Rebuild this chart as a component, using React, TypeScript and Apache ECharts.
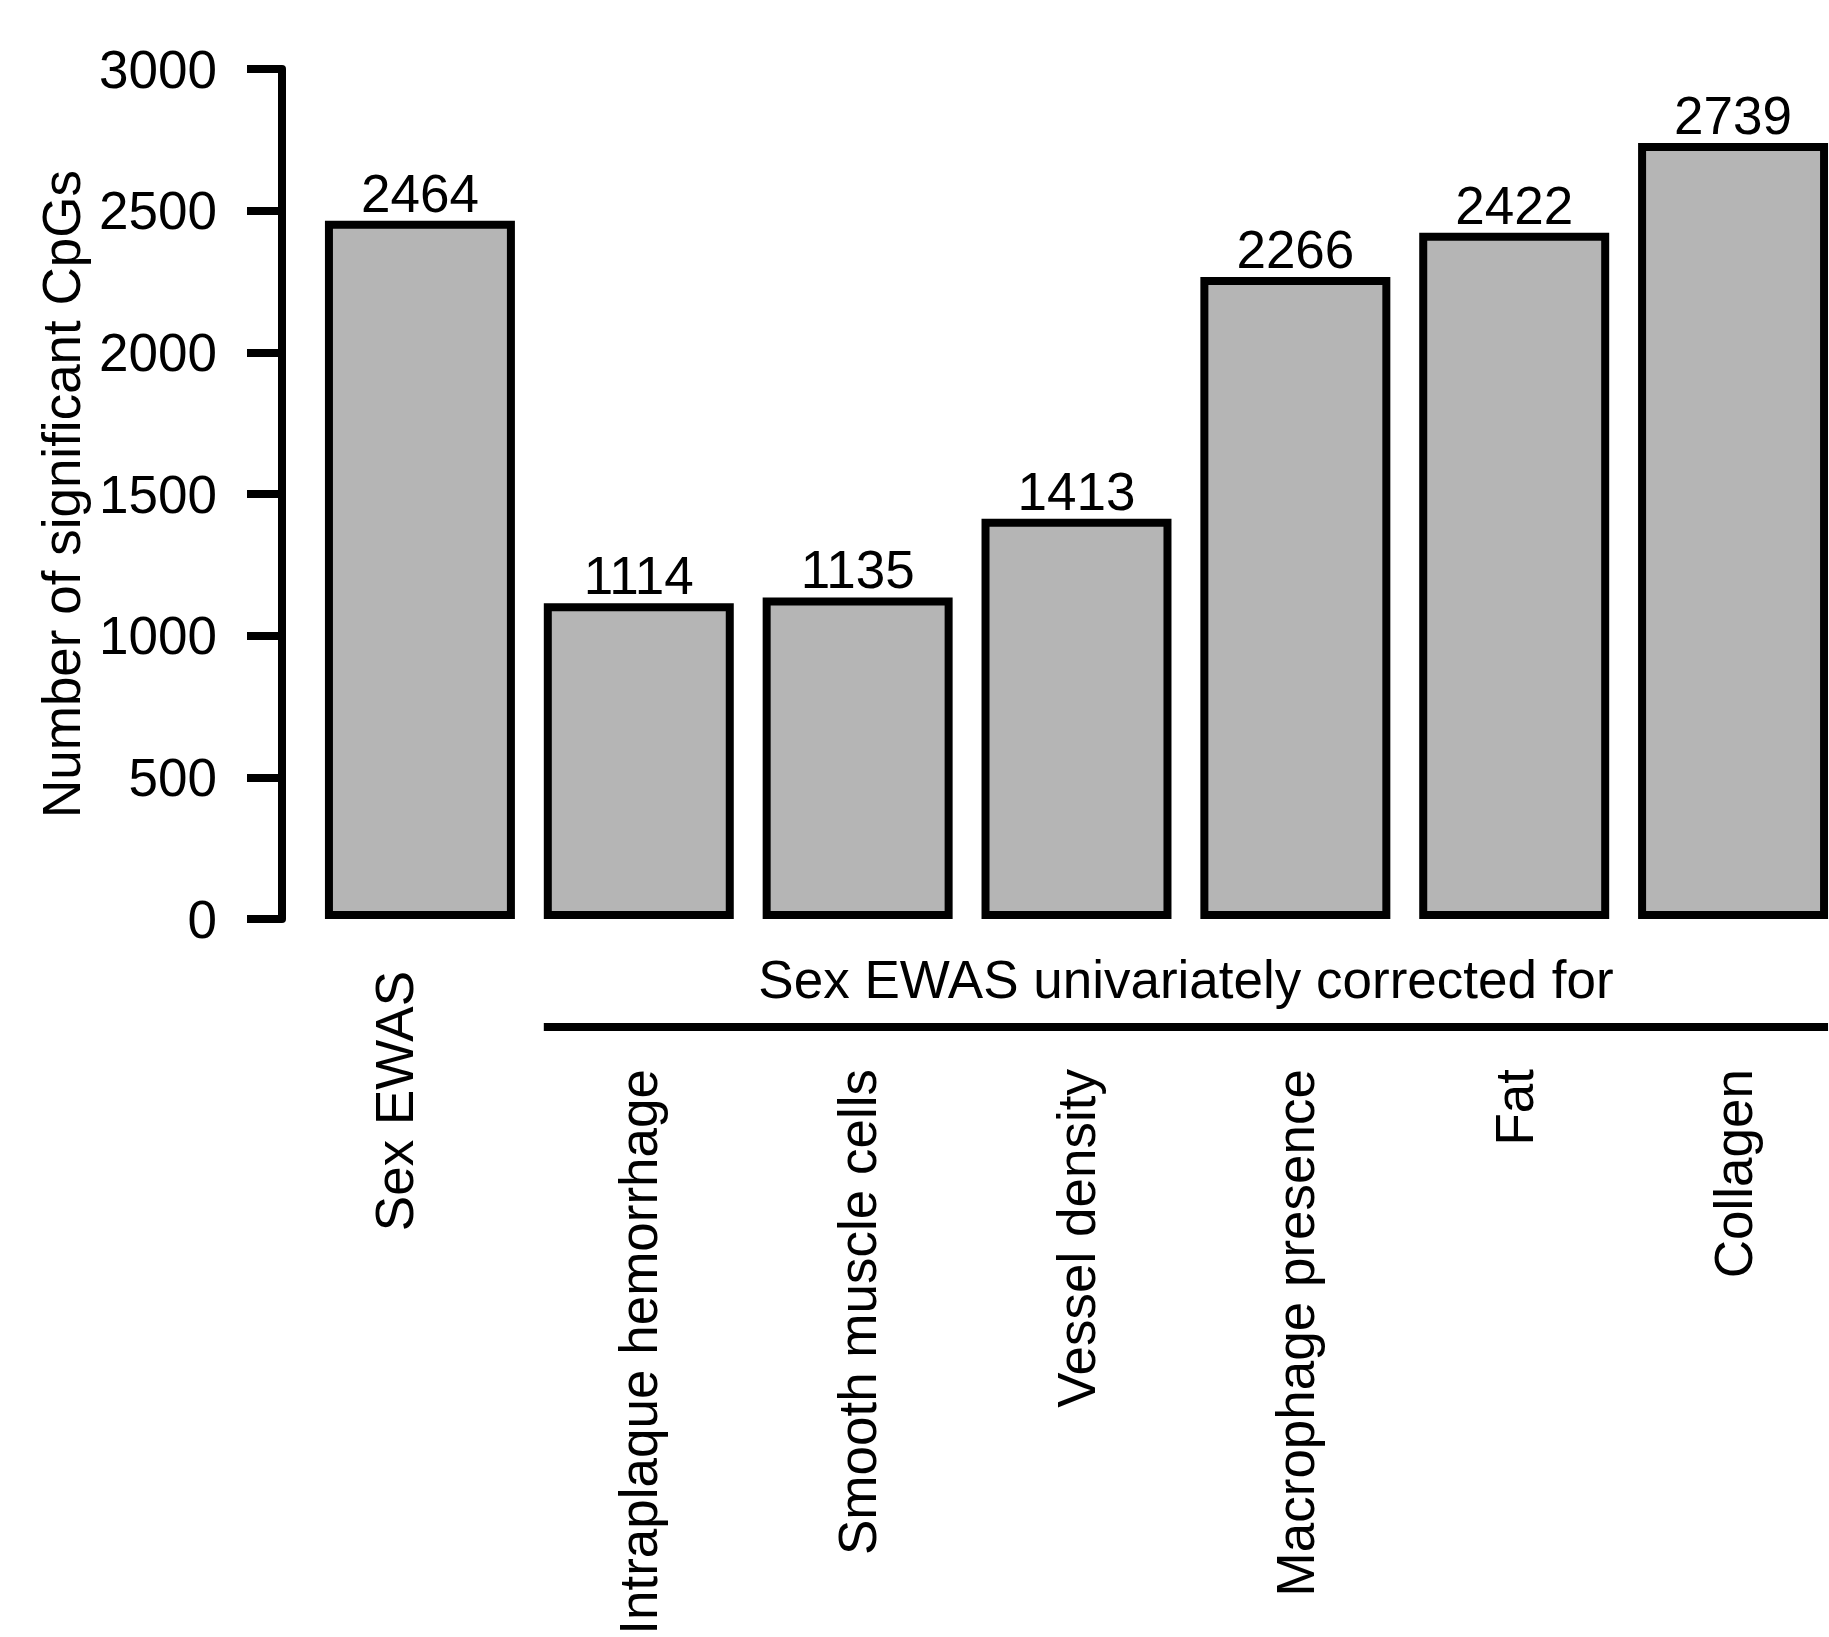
import React, { useEffect, useRef } from "react";
import * as echarts from "echarts";

const categories = [
  "Sex EWAS",
  "Intraplaque hemorrhage",
  "Smooth muscle cells",
  "Vessel density",
  "Macrophage presence",
  "Fat",
  "Collagen",
];
const counts = [2464, 1114, 1135, 1413, 2266, 2422, 2739];
const yMin = 0;
const yMax = 3000;
const yStep = 500;
const yTitle = "Number of significant CpGs";
const groupTitle = "Sex EWAS univariately corrected for";
const groupFirst = 1;
const groupLast = 6;

export default function App() {
  const ref = useRef<HTMLDivElement>(null);
  useEffect(() => {
    const chart = echarts.init(ref.current!, null, { renderer: "svg" });
    const font = "'Liberation Sans', Arial, Helvetica, sans-serif";
    const fs = 53;
    const gapPct = 0.132;
    const border = 8;
    const text = { fontSize: fs, fontFamily: font, color: "#000" };
    chart.setOption({
      animation: false,
      backgroundColor: "#ffffff",
      grid: {
        left: 310.5,
        top: 69,
        width: 1532,
        height: 850,
        containLabel: false,
        outerBoundsMode: "none",
      },
      xAxis: [
        {
          type: "category",
          data: categories,
          position: "bottom",
          axisLine: { show: false },
          axisTick: { show: false },
          splitLine: { show: false },
          axisLabel: {
            interval: 0,
            rotate: 90,
            margin: 52,
            ...text,
            formatter: (v: string, i: number) => (i === 0 ? `{a|${v}}` : ""),
            rich: { a: { ...text, padding: [0, 0, 50, 0] } },
          },
        },
        {
          type: "category",
          data: categories,
          position: "bottom",
          axisLine: { show: false },
          axisTick: { show: false },
          splitLine: { show: false },
          axisLabel: {
            interval: 0,
            rotate: 90,
            margin: 150,
            ...text,
            formatter: (v: string, i: number) => (i === 0 ? "" : v),
          },
        },
      ],
      yAxis: {
        type: "value",
        min: yMin,
        max: yMax,
        interval: yStep,
        offset: 28.5,
        axisLine: { show: true, lineStyle: { color: "#000", width: 8 } },
        axisTick: { show: true, length: 35, lineStyle: { color: "#000", width: 8 } },
        splitLine: { show: false },
        axisLabel: { margin: 65, ...text, formatter: (v: number) => String(v) },
        name: yTitle,
        nameLocation: "middle",
        nameRotate: 90,
        nameGap: 184,
        nameTextStyle: { ...text },
      },
      series: [
        {
          type: "bar",
          data: counts,
          xAxisIndex: 0,
          barCategoryGap: `${gapPct * 100}%`,
          itemStyle: { color: "#b5b5b5", borderColor: "#000", borderWidth: border },
          label: { show: true, position: "top", distance: 1, ...text },
        },
      ],
    });

    const xa = chart.convertToPixel({ gridIndex: 0 }, [categories[groupFirst], 0]) as number[];
    const xb = chart.convertToPixel({ gridIndex: 0 }, [categories[groupFirst + 1], 0]) as number[];
    const xl = chart.convertToPixel({ gridIndex: 0 }, [categories[groupLast], 0]) as number[];
    const band = xb[0] - xa[0];
    const barW = band * (1 - gapPct);
    const left = xa[0] - barW / 2;
    const right = xl[0] + barW / 2;
    const baseY = xa[1];
    chart.setOption({
      graphic: [
        {
          type: "line",
          shape: { x1: left, y1: baseY + 108, x2: right, y2: baseY + 108 },
          style: { stroke: "#000", lineWidth: 8 },
        },
        {
          type: "text",
          x: (left + right) / 2,
          y: baseY + 60,
          style: {
            text: groupTitle,
            ...text,
            fill: "#000",
            align: "center",
            verticalAlign: "middle",
          },
        },
      ],
    });
    return () => chart.dispose();
  }, []);
  return (
    <div
      ref={ref}
      style={{ position: "absolute", left: 0, top: 0, width: 1829, height: 1637 }}
    />
  );
}
